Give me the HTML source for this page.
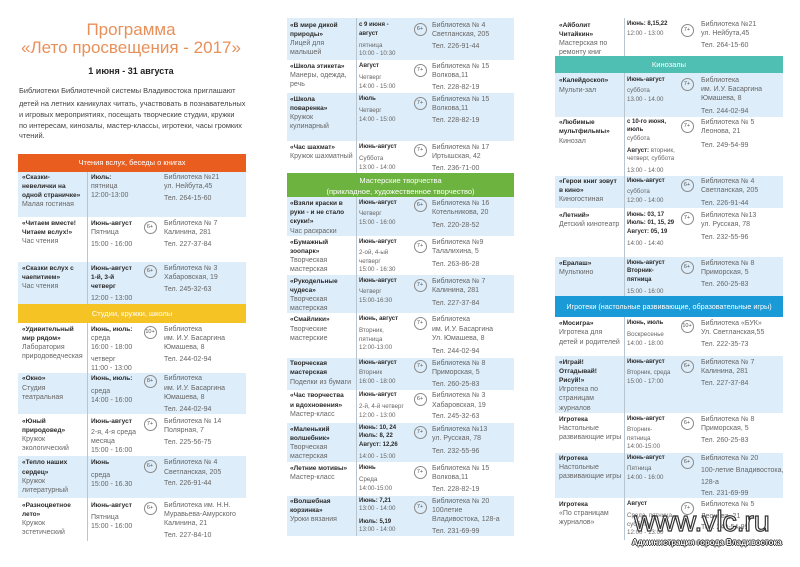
<!DOCTYPE html>
<html><head><meta charset="utf-8">
<style>
body{margin:0;width:800px;height:567px;background:#fff;position:relative;overflow:hidden;font-family:"Liberation Sans","Noto Sans CJK SC",sans-serif;}
.k{position:absolute;line-height:9px;font-size:7px;color:#666;white-space:nowrap}
.k p{margin:0}
.k b{color:#2b2b2b;font-size:6.5px}
.s{font-size:6.2px;line-height:8.3px}
.s b{font-size:6px}
.g1{margin-top:1px!important}.g2{margin-top:2px!important}.g3{margin-top:3px!important}.g4{margin-top:4px!important}.g5{margin-top:5px!important}
.r{position:absolute;background:#ddedf9}
.v{position:absolute;width:1px;background:#b9c6cf}
.c{position:absolute;width:11px;height:11px;border:1px solid #8a8a8a;border-radius:50%;font-size:5.5px;line-height:11px;text-align:center;color:#555}
.h{position:absolute;color:#fff;text-align:center;font-size:7.5px;white-space:nowrap}
.t{position:absolute;white-space:nowrap}
</style></head><body>

<!-- Title -->
<div class="t" style="left:0;width:262px;text-align:center;top:21px;font-size:17px;line-height:18px;color:#e8905a">Программа</div>
<div class="t" style="left:0;width:262px;text-align:center;top:39px;font-size:17px;line-height:18px;color:#e8905a">«Лето просвещения - 2017»</div>
<div class="t" style="left:0;width:262px;text-align:center;top:66px;font-size:9px;line-height:11px;font-weight:bold;color:#222">1 июня - 31 августа</div>
<div class="t" style="left:19px;top:86px;font-size:7.4px;line-height:10px;color:#444">Библиотеки Библиотечной системы Владивостока приглашают</div>
<div class="t" style="left:19px;top:99px;font-size:7.4px;line-height:10px;color:#444">детей на летних каникулах читать, участвовать в познавательных</div>
<div class="t" style="left:19px;top:110px;font-size:7.4px;line-height:10px;color:#444">и игровых мероприятиях, посещать творческие студии, кружки</div>
<div class="t" style="left:19px;top:121px;font-size:7.4px;line-height:10px;color:#444">по интересам, кинозалы, мастер-классы, игротеки, часы громких</div>
<div class="t" style="left:19px;top:131px;font-size:7.4px;line-height:10px;color:#444">чтений.</div>

<!-- LEFT TABLE -->
<div class="r" style="left:18px;top:172px;width:228px;height:45px"></div>
<div class="r" style="left:18px;top:262px;width:228px;height:42px"></div>
<div class="r" style="left:18px;top:373px;width:228px;height:41px"></div>
<div class="r" style="left:18px;top:456px;width:228px;height:42px"></div>
<div class="v" style="left:87px;top:172px;height:369px"></div>
<div class="h" style="left:18px;top:154px;width:228px;height:18px;line-height:18px;background:#e95d1f">Чтения вслух, беседы о книгах</div>
<div class="h" style="left:18px;top:304px;width:228px;height:19px;line-height:19px;background:#f6c324">Студии, кружки, школы</div>

<div class="k" style="left:22px;top:172.5px"><p><b>«Сказки-</b></p><p><b>невелички на</b></p><p><b>одной страничке»</b></p><p>Малая гостиная</p></div>
<div class="k" style="left:91px;top:172.5px"><p><b>Июль:</b></p><p>пятница</p><p>12:00-13:00</p></div>
<div class="k" style="left:164px;top:172.5px"><p>Библиотека №21</p><p>ул. Нейбута,45</p><p class="g3">Тел. 264-15-60</p></div>

<div class="k" style="left:22px;top:218.5px"><p><b>«Читаем вместе!</b></p><p><b>Читаем вслух!»</b></p><p>Час чтения</p></div>
<div class="k" style="left:91px;top:218.5px"><p><b>Июнь-август</b></p><p>Пятница</p><p class="g3">15:00 - 16:00</p></div>
<div class="c" style="left:143.5px;top:220.5px">6+</div>
<div class="k" style="left:164px;top:218.5px"><p>Библиотека № 7</p><p>Калинина, 281</p><p class="g3">Тел. 227-37-84</p></div>

<div class="k" style="left:22px;top:263.5px"><p><b>«Сказки вслух с</b></p><p><b>чаепитием»</b></p><p>Час чтения</p></div>
<div class="k" style="left:91px;top:263.5px"><p><b>Июнь-август</b></p><p><b>1-й, 3-й</b></p><p><b>четверг</b></p><p class="g3">12:00 - 13:00</p></div>
<div class="c" style="left:143.5px;top:264.5px">6+</div>
<div class="k" style="left:164px;top:263.5px"><p>Библиотека № 3</p><p>Хабаровская, 19</p><p class="g3">Тел. 245-32-63</p></div>

<div class="k" style="left:22px;top:324.5px"><p><b>«Удивительный</b></p><p><b>мир рядом»</b></p><p>Лаборатория</p><p>природоведческая</p></div>
<div class="k" style="left:91px;top:324.5px"><p><b>Июнь, июль:</b></p><p>среда</p><p>16:00 - 18:00</p><p class="g3">четверг</p><p>11:00 - 13:00</p></div>
<div class="c" style="left:143.5px;top:325.5px">10+</div>
<div class="k" style="left:164px;top:324.5px"><p>Библиотека</p><p>им. И.У. Басаргина</p><p>Юмашева, 8</p><p class="g3">Тел. 244-02-94</p></div>

<div class="k" style="left:22px;top:373.5px"><p><b>«Окно»</b></p><p class="g1">Студия</p><p>театральная</p></div>
<div class="k" style="left:91px;top:373.5px"><p><b>Июнь, июль:</b></p><p class="g4">среда</p><p>14:00 - 16:00</p></div>
<div class="c" style="left:143.5px;top:374.5px">8+</div>
<div class="k" style="left:164px;top:373.5px"><p>Библиотека</p><p class="g1">им. И.У. Басаргина</p><p>Юмашева, 8</p><p class="g3">Тел. 244-02-94</p></div>

<div class="k" style="left:22px;top:416.5px"><p><b>«Юный</b></p><p><b>природовед»</b></p><p>Кружок</p><p>экологический</p></div>
<div class="k" style="left:91px;top:416.5px"><p><b>Июнь-август</b></p><p class="g2">2-я, 4-я среда</p><p>месяца</p><p>15:00 - 16:00</p></div>
<div class="c" style="left:143.5px;top:417.5px">7+</div>
<div class="k" style="left:164px;top:416.5px"><p>Библиотека № 14</p><p>Полярная, 7</p><p class="g3">Тел. 225-56-75</p></div>

<div class="k" style="left:22px;top:457.5px"><p><b>«Тепло наших</b></p><p class="g1"><b>сердец»</b></p><p>Кружок</p><p>литературный</p></div>
<div class="k" style="left:91px;top:457.5px"><p><b>Июнь</b></p><p class="g4">среда</p><p>15:00 - 16.30</p></div>
<div class="c" style="left:143.5px;top:459.5px">6+</div>
<div class="k" style="left:164px;top:457.5px"><p>Библиотека № 4</p><p class="g1">Светланская, 205</p><p class="g2">Тел. 226-91-44</p></div>

<div class="k" style="left:22px;top:500.5px"><p><b>«Разноцветное</b></p><p><b>лето»</b></p><p>Кружок</p><p>эстетический</p></div>
<div class="k" style="left:91px;top:500.5px"><p><b>Июнь-август</b></p><p class="g3">Пятница</p><p>15:00 - 16:00</p></div>
<div class="c" style="left:143.5px;top:501.5px">6+</div>
<div class="k" style="left:164px;top:500.5px"><p>Библиотека им. Н.Н.</p><p>Муравьева-Амурского</p><p>Калинина, 21</p><p class="g3">Тел. 227-84-10</p></div>

<!-- MIDDLE TABLE -->
<div class="r" style="left:287px;top:18px;width:227px;height:42px"></div>
<div class="r" style="left:287px;top:93px;width:227px;height:48px"></div>
<div class="r" style="left:287px;top:197px;width:227px;height:39px"></div>
<div class="r" style="left:287px;top:275px;width:227px;height:38px"></div>
<div class="r" style="left:287px;top:358px;width:227px;height:32px"></div>
<div class="r" style="left:287px;top:423px;width:227px;height:39px"></div>
<div class="r" style="left:287px;top:496px;width:227px;height:40px"></div>
<div class="v" style="left:356px;top:18px;height:518px"></div>
<div class="h" style="left:287px;top:173px;width:227px;height:24px;background:#6cb33f;line-height:11px"><div style="padding-top:2px">Мастерские творчества</div><div>(прикладное, художественное творчество)</div></div>

<div class="k" style="left:290px;top:20.5px"><p><b>«В мире дикой</b></p><p><b>природы»</b></p><p>Лицей для</p><p>малышей</p></div>
<div class="k s" style="left:359px;top:21px"><p><b>с 9 июня -</b></p><p class="g1"><b>август</b></p><p class="g3">пятница</p><p>10:00 - 10:30</p></div>
<div class="c" style="left:413.5px;top:22.5px">6+</div>
<div class="k" style="left:432px;top:20.5px"><p>Библиотека № 4</p><p>Светланская, 205</p><p class="g3">Тел. 226-91-44</p></div>

<div class="k" style="left:290px;top:61.5px"><p><b>«Школа этикета»</b></p><p>Манеры, одежда,</p><p>речь</p></div>
<div class="k s" style="left:359px;top:62px"><p><b>Август</b></p><p class="g4">Четверг</p><p>14:00 - 15:00</p></div>
<div class="c" style="left:413.5px;top:63.5px">7+</div>
<div class="k" style="left:432px;top:61.5px"><p>Библиотека № 15</p><p>Волкова,11</p><p class="g3">Тел. 228-82-19</p></div>

<div class="k" style="left:290px;top:94.5px"><p><b>«Школа</b></p><p><b>поваренка»</b></p><p>Кружок</p><p>кулинарный</p></div>
<div class="k s" style="left:359px;top:95px"><p><b>Июль</b></p><p class="g4">Четверг</p><p>14:00 - 15:00</p></div>
<div class="c" style="left:413.5px;top:96.5px">7+</div>
<div class="k" style="left:432px;top:94.5px"><p>Библиотека № 15</p><p>Волкова,11</p><p class="g3">Тел. 228-82-19</p></div>

<div class="k" style="left:290px;top:142.5px"><p><b>«Час шахмат»</b></p><p>Кружок шахматный</p></div>
<div class="k s" style="left:359px;top:143px"><p><b>Июнь-август</b></p><p class="g4">Суббота</p><p>13:00 - 14:00</p></div>
<div class="c" style="left:413.5px;top:143.5px">7+</div>
<div class="k" style="left:432px;top:142.5px"><p>Библиотека № 17</p><p>Иртышская, 42</p><p class="g3">Тел. 236-71-00</p></div>

<div class="k" style="left:290px;top:198.5px"><p><b>«Взяли краски в</b></p><p><b>руки - и не стало</b></p><p><b>скуки!»</b></p><p class="g1">Час раскраски</p></div>
<div class="k s" style="left:359px;top:199px"><p><b>Июнь-август</b></p><p class="g3">Четверг</p><p>15:00 - 16:00</p></div>
<div class="c" style="left:413.5px;top:198.5px">6+</div>
<div class="k" style="left:432px;top:198.5px"><p>Библиотека № 16</p><p>Котельникова, 20</p><p class="g4">Тел. 220-28-52</p></div>

<div class="k" style="left:290px;top:237.5px"><p><b>«Бумажный</b></p><p><b>зоопарк»</b></p><p>Творческая</p><p>мастерская</p></div>
<div class="k s" style="left:359px;top:238px"><p><b>Июнь-август</b></p><p class="g3">2-ой, 4-ый</p><p>четверг</p><p>15:00 - 16:30</p></div>
<div class="c" style="left:413.5px;top:239.5px">7+</div>
<div class="k" style="left:432px;top:237.5px"><p>Библиотека №9</p><p>Талалихина, 5</p><p class="g4">Тел. 263-86-28</p></div>

<div class="k" style="left:290px;top:276.5px"><p><b>«Рукодельные</b></p><p><b>чудеса»</b></p><p>Творческая</p><p>мастерская</p></div>
<div class="k s" style="left:359px;top:277px"><p><b>Июнь-август</b></p><p class="g3">Четверг</p><p>15:00-16:30</p></div>
<div class="c" style="left:413.5px;top:278.5px">7+</div>
<div class="k" style="left:432px;top:276.5px"><p>Библиотека № 7</p><p>Калинина, 281</p><p class="g4">Тел. 227-37-84</p></div>

<div class="k" style="left:290px;top:314.5px"><p><b>«Смайлики»</b></p><p class="g1">Творческие</p><p>мастерские</p></div>
<div class="k s" style="left:359px;top:315px"><p><b>Июнь, август</b></p><p class="g4">Вторник,</p><p>пятница</p><p>12:00-13:00</p></div>
<div class="c" style="left:413.5px;top:316.5px">7+</div>
<div class="k" style="left:432px;top:314.5px"><p>Библиотека</p><p class="g1">им. И.У. Басаргина</p><p>Ул. Юмашева, 8</p><p class="g4">Тел. 244-02-94</p></div>

<div class="k" style="left:290px;top:358.5px"><p><b>Творческая</b></p><p><b>мастерская</b></p><p class="g1">Поделки из бумаги</p></div>
<div class="k s" style="left:359px;top:359px"><p><b>Июнь-август</b></p><p class="g2">Вторник</p><p>16:00 - 18:00</p></div>
<div class="c" style="left:413.5px;top:359.5px">7+</div>
<div class="k" style="left:432px;top:358.5px"><p>Библиотека № 8</p><p>Приморская, 5</p><p class="g3">Тел. 260-25-83</p></div>

<div class="k" style="left:290px;top:390.5px"><p><b>«Час творчества</b></p><p class="g1"><b>и вдохновения»</b></p><p>Мастер-класс</p></div>
<div class="k s" style="left:359px;top:391px"><p><b>Июнь-август</b></p><p class="g4">2-й, 4-й четверг</p><p>12:00 - 13:00</p></div>
<div class="c" style="left:413.5px;top:392.5px">6+</div>
<div class="k" style="left:432px;top:390.5px"><p>Библиотека № 3</p><p class="g1">Хабаровская, 19</p><p class="g2">Тел. 245-32-63</p></div>

<div class="k" style="left:290px;top:424.5px"><p><b>«Маленький</b></p><p><b>волшебник»</b></p><p>Творческая</p><p>мастерская</p></div>
<div class="k s" style="left:359px;top:424px"><p><b>Июнь: 10, 24</b></p><p><b>Июль: 8, 22</b></p><p><b>Август: 12,26</b></p><p class="g4">14:00 - 15:00</p></div>
<div class="c" style="left:413.5px;top:425.5px">7+</div>
<div class="k" style="left:432px;top:424.5px"><p>Библиотека №13</p><p>ул. Русская, 78</p><p class="g4">Тел. 232-55-96</p></div>

<div class="k" style="left:290px;top:463.5px"><p><b>«Летние мотивы»</b></p><p>Мастер-класс</p></div>
<div class="k s" style="left:359px;top:464px"><p><b>Июнь</b></p><p class="g4">Среда</p><p>14:00-15:00</p></div>
<div class="c" style="left:413.5px;top:465.5px">7+</div>
<div class="k" style="left:432px;top:463.5px"><p>Библиотека № 15</p><p>Волкова,11</p><p class="g3">Тел. 228-82-19</p></div>

<div class="k" style="left:290px;top:496.5px"><p><b>«Волшебная</b></p><p><b>корзинка»</b></p><p>Уроки вязания</p></div>
<div class="k s" style="left:359px;top:497px"><p><b>Июнь: 7,21</b></p><p>13:00 - 14:00</p><p class="g4"><b>Июль: 5,19</b></p><p>13:00 - 14:00</p></div>
<div class="c" style="left:413.5px;top:500.5px">7+</div>
<div class="k" style="left:432px;top:496.5px"><p>Библиотека № 20</p><p>100летие</p><p>Владивостока, 128-а</p><p class="g3">Тел. 231-69-99</p></div>

<!-- RIGHT TABLE -->
<div class="r" style="left:555px;top:73px;width:228px;height:44px"></div>
<div class="r" style="left:555px;top:176px;width:228px;height:32px"></div>
<div class="r" style="left:555px;top:257px;width:228px;height:39px"></div>
<div class="r" style="left:555px;top:356px;width:228px;height:57px"></div>
<div class="r" style="left:555px;top:453px;width:228px;height:45px"></div>
<div class="v" style="left:624px;top:18px;height:522px"></div>
<div class="h" style="left:555px;top:56px;width:228px;height:17px;line-height:17px;background:#4fbfb3">Кинозалы</div>
<div class="h" style="left:555px;top:296px;width:228px;height:21px;line-height:21px;background:#1a9ad6;font-size:7.2px">Игротеки (настольные развивающие, образовательные игры)</div>

<div class="k" style="left:559px;top:20.5px"><p><b>«Айболит</b></p><p><b>Читайкин»</b></p><p>Мастерская по</p><p>ремонту книг</p></div>
<div class="k s" style="left:627px;top:20px"><p><b>Июнь: 8,15,22</b></p><p class="g2">12:00 - 13:00</p></div>
<div class="c" style="left:680.5px;top:23.5px">7+</div>
<div class="k" style="left:701px;top:19.5px"><p>Библиотека №21</p><p>ул. Нейбута,45</p><p class="g3">Тел. 264-15-60</p></div>

<div class="k" style="left:559px;top:75.5px"><p><b>«Калейдоскоп»</b></p><p class="g1">Мульти-зал</p></div>
<div class="k s" style="left:627px;top:76px"><p><b>Июнь-август</b></p><p class="g3">суббота</p><p>13.00 - 14.00</p></div>
<div class="c" style="left:680.5px;top:77.5px">7+</div>
<div class="k" style="left:701px;top:75.5px"><p>Библиотека</p><p>им. И.У. Басаргина</p><p>Юмашева, 8</p><p class="g4">Тел. 244-02-94</p></div>

<div class="k" style="left:559px;top:117.5px"><p><b>«Любимые</b></p><p><b>мультфильмы»</b></p><p class="g1">Кинозал</p></div>
<div class="k s" style="left:627px;top:118px"><p><b>с 10-го июня,</b></p><p><b>июль</b></p><p>суббота</p><p class="g4"><b>Август:</b> вторник,</p><p>четверг, суббота</p><p class="g4">13:00 - 14:00</p></div>
<div class="c" style="left:680.5px;top:119.5px">7+</div>
<div class="k" style="left:701px;top:117.5px"><p>Библиотека № 5</p><p>Леонова, 21</p><p class="g5">Тел. 249-54-99</p></div>

<div class="k" style="left:559px;top:176.5px"><p><b>«Герои книг зовут</b></p><p><b>в кино»</b></p><p>Киногостиная</p></div>
<div class="k s" style="left:627px;top:177px"><p><b>Июнь-август</b></p><p class="g3">суббота</p><p>12:00 - 14:00</p></div>
<div class="c" style="left:680.5px;top:178.5px">6+</div>
<div class="k" style="left:701px;top:176.5px"><p>Библиотека № 4</p><p>Светланская, 205</p><p class="g4">Тел. 226-91-44</p></div>

<div class="k" style="left:559px;top:210.5px"><p><b>«Летний»</b></p><p>Детский кинотеатр</p></div>
<div class="k s" style="left:627px;top:211px"><p><b>Июнь: 03, 17</b></p><p><b>Июль: 01, 15, 29</b></p><p><b>Август: 05, 19</b></p><p class="g4">14:00 - 14:40</p></div>
<div class="c" style="left:680.5px;top:211.5px">7+</div>
<div class="k" style="left:701px;top:210.5px"><p>Библиотека №13</p><p>ул. Русская, 78</p><p class="g4">Тел. 232-55-96</p></div>

<div class="k" style="left:559px;top:258.5px"><p><b>«Ералаш»</b></p><p>Мульткино</p></div>
<div class="k s" style="left:627px;top:259px"><p><b>Июнь-август</b></p><p><b>Вторник-</b></p><p><b>пятница</b></p><p class="g4">15:00 - 16:00</p></div>
<div class="c" style="left:680.5px;top:260.5px">6+</div>
<div class="k" style="left:701px;top:258.5px"><p>Библиотека № 8</p><p>Приморская, 5</p><p class="g3">Тел. 260-25-83</p></div>

<div class="k" style="left:559px;top:318.5px"><p><b>«Мосигра»</b></p><p>Игротека для</p><p class="g1">детей и родителей</p></div>
<div class="k s" style="left:627px;top:319px"><p><b>Июнь, июль</b></p><p class="g4">Воскресенье</p><p>14:00 - 18:00</p></div>
<div class="c" style="left:680.5px;top:319.5px">10+</div>
<div class="k" style="left:701px;top:318.5px"><p>Библиотека «БУК»</p><p>Ул. Светланская,55</p><p class="g3">Тел. 222-35-73</p></div>

<div class="k" style="left:559px;top:357.5px"><p><b>«Играй!</b></p><p><b>Отгадывай!</b></p><p><b>Рисуй!»</b></p><p>Игротека по</p><p>страницам</p><p class="g1">журналов</p></div>
<div class="k s" style="left:627px;top:358px"><p><b>Июнь-август</b></p><p class="g3">Вторник, среда</p><p>15:00 - 17:00</p></div>
<div class="c" style="left:680.5px;top:359.5px">6+</div>
<div class="k" style="left:701px;top:357.5px"><p>Библиотека № 7</p><p>Калинина, 281</p><p class="g3">Тел. 227-37-84</p></div>

<div class="k" style="left:559px;top:414.5px"><p><b>Игротека</b></p><p>Настольные</p><p>развивающие игры</p></div>
<div class="k s" style="left:627px;top:415px"><p><b>Июнь-август</b></p><p class="g3">Вторник-</p><p>пятница</p><p>14:00-15:00</p></div>
<div class="c" style="left:680.5px;top:416.5px">6+</div>
<div class="k" style="left:701px;top:414.5px"><p>Библиотека № 8</p><p>Приморская, 5</p><p class="g3">Тел. 260-25-83</p></div>

<div class="k" style="left:559px;top:453.5px"><p><b>Игротека</b></p><p>Настольные</p><p>развивающие игры</p></div>
<div class="k s" style="left:627px;top:454px"><p><b>Июнь-август</b></p><p class="g3">Пятница</p><p>14:00 - 16:00</p></div>
<div class="c" style="left:680.5px;top:455.5px">6+</div>
<div class="k" style="left:701px;top:453.5px"><p>Библиотека № 20</p><p class="g3">100-летие Владивостока,</p><p class="g3">128-а</p><p class="g2">Тел. 231-69-99</p></div>

<div class="k" style="left:559px;top:499.5px"><p><b>Игротека</b></p><p>«По страницам</p><p>журналов»</p></div>
<div class="k s" style="left:627px;top:500px"><p><b>Август</b></p><p class="g4">Среда, пятница,</p><p>суббота</p><p>12:00 - 13:00</p></div>
<div class="c" style="left:680.5px;top:501.5px">7+</div>
<div class="k" style="left:701px;top:499.5px"><p>Библиотека № 5</p><p class="g3">Леонова, 21</p><p class="g2">Тел. 249-54-99</p></div>

<!-- Watermark -->
<div class="t" style="left:634px;top:506px;font-size:29px;line-height:32px;color:#fff;-webkit-text-stroke:1.2px #333;letter-spacing:-0.3px">www.vlc.ru</div>
<div class="t" style="left:632px;top:537px;font-size:7.9px;line-height:11px;font-weight:bold;color:#fff;text-shadow:1px 0 0 #333,-1px 0 0 #333,0 1px 0 #333,0 -1px 0 #333">Администрация города Владивостока</div>

</body></html>
